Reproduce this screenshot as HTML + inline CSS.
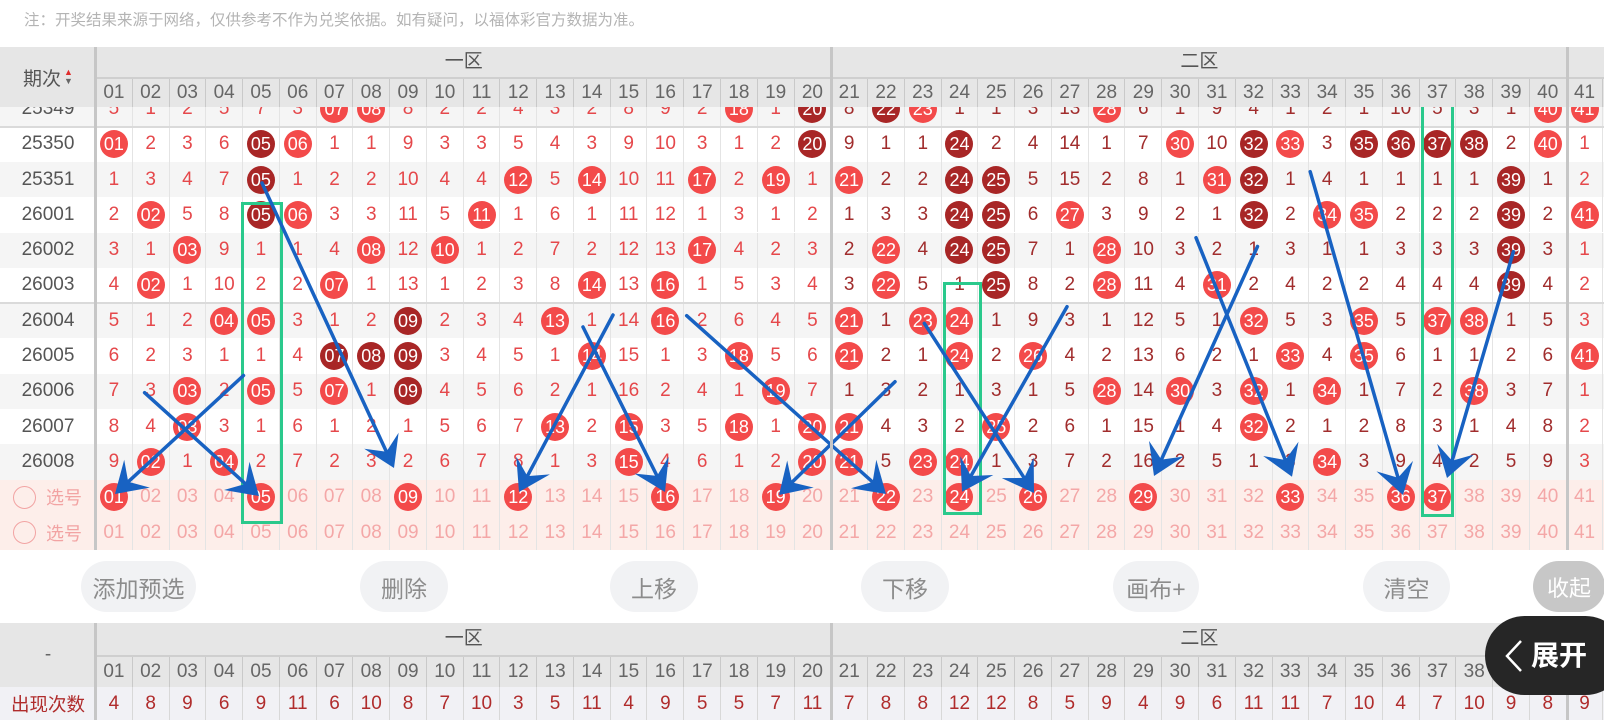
<!DOCTYPE html>
<html><head><meta charset="utf-8">
<style>
*{margin:0;padding:0;box-sizing:border-box}
html,body{width:1604px;height:720px;overflow:hidden;background:#fff}
body{position:relative;font-family:"Liberation Sans","Noto Sans CJK SC",sans-serif}
.note{position:absolute;left:24px;top:10px;font-size:15.5px;color:#b4b4b4;white-space:nowrap;font-family:"Liberation Sans","Noto Sans CJK SC",sans-serif;line-height:22px}
.r{position:absolute;left:0;width:1604px;height:35.3px;display:flex;z-index:1}
.g{background:#f5f5f5}
.r .l{width:96px;flex:none;display:flex;align-items:center;justify-content:center;font-size:19px;color:#555}
.r i{width:36.78px;flex:none;height:100%;display:flex;align-items:center;justify-content:center;font-style:normal;font-size:19px;color:#e5484b;border-right:1px solid #e4e4e4}
.r i:nth-of-type(n+21):nth-of-type(-n+40){color:#a12d2d}
.r b{display:block;width:28px;height:28px;border-radius:50%;background:#f34a4a;color:#fff;font-weight:normal;font-size:18px;line-height:28px;text-align:center}
.r b.d{background:#a82626}
.x{background:#fdeeea}
.x i,.x i:nth-of-type(n+21):nth-of-type(-n+40){color:#f4a7a7}
.x .l{color:#f2a3a3;font-family:"Liberation Sans","Noto Sans CJK SC",sans-serif;font-size:18px;justify-content:flex-start;padding-left:13px}
.x .l em{display:inline-block;width:23px;height:23px;border:1.5px solid #f2a3a3;border-radius:50%;margin-right:10px}
.c{background:#f1f1f5}
.c i,.c i:nth-of-type(n+21):nth-of-type(-n+40){color:#b02c2c;border-right-color:#d8d8d8}
.c .l{color:#b02c2c;font-family:"Liberation Sans","Noto Sans CJK SC",sans-serif;font-size:18.5px}
.hd{position:absolute;left:0;width:1604px;background:#e6e6e6;z-index:5}
.hd .z{position:absolute;top:0;text-align:center;font-size:19px;color:#555;font-family:"Liberation Sans","Noto Sans CJK SC",sans-serif}
.hd .n{position:absolute;left:96px;display:flex;border-top:2px solid #cfcfcf;width:1508px}
.hd .n span{width:36.78px;flex:none;display:flex;align-items:center;justify-content:center;border-right:1px solid #c9c9c9;color:#666;font-size:19px}
.hd .lab{position:absolute;left:0;width:96px;top:0;display:flex;align-items:center;justify-content:center;color:#555;font-size:19px;font-family:"Liberation Sans","Noto Sans CJK SC",sans-serif}
.vl{position:absolute;width:3px;background:#c6c6c6;z-index:6}
.hl{position:absolute;left:0;width:1604px;height:2px;background:#dadada;z-index:2}
.gr{position:absolute;border:3px solid #2ac98c;z-index:3}
.btn{position:absolute;top:561px;height:51px;border-radius:26px;background:#f1f2f4;color:#8c8c8c;font-size:23px;display:flex;align-items:center;justify-content:center;font-family:"Liberation Sans","Noto Sans CJK SC",sans-serif}
</style></head><body>

<div class="note">注：开奖结果来源于网络，仅供参考不作为兑奖依据。如有疑问，以福体彩官方数据为准。</div>

<!-- data rows -->
<div class="r g" style="top:91.3px"><span class="l">25349</span><i>5</i><i>1</i><i>2</i><i>5</i><i>7</i><i>3</i><i><b>07</b></i><i><b>08</b></i><i>8</i><i>2</i><i>2</i><i>4</i><i>3</i><i>2</i><i>8</i><i>9</i><i>2</i><i><b>18</b></i><i>1</i><i><b class="d">20</b></i><i>8</i><i><b class="d">22</b></i><i><b>23</b></i><i>1</i><i>1</i><i>3</i><i>13</i><i><b>28</b></i><i>6</i><i>1</i><i>9</i><i>4</i><i>1</i><i>2</i><i>1</i><i>10</i><i>5</i><i>3</i><i>1</i><i><b>40</b></i><i><b>41</b></i></div>

<div class="r" style="top:126.6px"><span class="l">25350</span><i><b>01</b></i><i>2</i><i>3</i><i>6</i><i><b class="d">05</b></i><i><b>06</b></i><i>1</i><i>1</i><i>9</i><i>3</i><i>3</i><i>5</i><i>4</i><i>3</i><i>9</i><i>10</i><i>3</i><i>1</i><i>2</i><i><b class="d">20</b></i><i>9</i><i>1</i><i>1</i><i><b class="d">24</b></i><i>2</i><i>4</i><i>14</i><i>1</i><i>7</i><i><b>30</b></i><i>10</i><i><b class="d">32</b></i><i><b>33</b></i><i>3</i><i><b class="d">35</b></i><i><b class="d">36</b></i><i><b class="d">37</b></i><i><b class="d">38</b></i><i>2</i><i><b>40</b></i><i>1</i></div>

<div class="r g" style="top:161.9px"><span class="l">25351</span><i>1</i><i>3</i><i>4</i><i>7</i><i><b class="d">05</b></i><i>1</i><i>2</i><i>2</i><i>10</i><i>4</i><i>4</i><i><b>12</b></i><i>5</i><i><b>14</b></i><i>10</i><i>11</i><i><b>17</b></i><i>2</i><i><b>19</b></i><i>1</i><i><b>21</b></i><i>2</i><i>2</i><i><b class="d">24</b></i><i><b class="d">25</b></i><i>5</i><i>15</i><i>2</i><i>8</i><i>1</i><i><b>31</b></i><i><b class="d">32</b></i><i>1</i><i>4</i><i>1</i><i>1</i><i>1</i><i>1</i><i><b class="d">39</b></i><i>1</i><i>2</i></div>

<div class="r" style="top:197.2px"><span class="l">26001</span><i>2</i><i><b>02</b></i><i>5</i><i>8</i><i><b class="d">05</b></i><i><b>06</b></i><i>3</i><i>3</i><i>11</i><i>5</i><i><b>11</b></i><i>1</i><i>6</i><i>1</i><i>11</i><i>12</i><i>1</i><i>3</i><i>1</i><i>2</i><i>1</i><i>3</i><i>3</i><i><b class="d">24</b></i><i><b class="d">25</b></i><i>6</i><i><b>27</b></i><i>3</i><i>9</i><i>2</i><i>1</i><i><b class="d">32</b></i><i>2</i><i><b>34</b></i><i><b>35</b></i><i>2</i><i>2</i><i>2</i><i><b class="d">39</b></i><i>2</i><i><b>41</b></i></div>

<div class="r g" style="top:232.5px"><span class="l">26002</span><i>3</i><i>1</i><i><b>03</b></i><i>9</i><i>1</i><i>1</i><i>4</i><i><b>08</b></i><i>12</i><i><b>10</b></i><i>1</i><i>2</i><i>7</i><i>2</i><i>12</i><i>13</i><i><b>17</b></i><i>4</i><i>2</i><i>3</i><i>2</i><i><b>22</b></i><i>4</i><i><b class="d">24</b></i><i><b class="d">25</b></i><i>7</i><i>1</i><i><b>28</b></i><i>10</i><i>3</i><i>2</i><i>1</i><i>3</i><i>1</i><i>1</i><i>3</i><i>3</i><i>3</i><i><b class="d">39</b></i><i>3</i><i>1</i></div>

<div class="r" style="top:267.8px"><span class="l">26003</span><i>4</i><i><b>02</b></i><i>1</i><i>10</i><i>2</i><i>2</i><i><b>07</b></i><i>1</i><i>13</i><i>1</i><i>2</i><i>3</i><i>8</i><i><b>14</b></i><i>13</i><i><b>16</b></i><i>1</i><i>5</i><i>3</i><i>4</i><i>3</i><i><b>22</b></i><i>5</i><i>1</i><i><b class="d">25</b></i><i>8</i><i>2</i><i><b>28</b></i><i>11</i><i>4</i><i><b>31</b></i><i>2</i><i>4</i><i>2</i><i>2</i><i>4</i><i>4</i><i>4</i><i><b class="d">39</b></i><i>4</i><i>2</i></div>

<div class="r g" style="top:303.1px"><span class="l">26004</span><i>5</i><i>1</i><i>2</i><i><b>04</b></i><i><b>05</b></i><i>3</i><i>1</i><i>2</i><i><b class="d">09</b></i><i>2</i><i>3</i><i>4</i><i><b>13</b></i><i>1</i><i>14</i><i><b>16</b></i><i>2</i><i>6</i><i>4</i><i>5</i><i><b>21</b></i><i>1</i><i><b>23</b></i><i><b>24</b></i><i>1</i><i>9</i><i>3</i><i>1</i><i>12</i><i>5</i><i>1</i><i><b>32</b></i><i>5</i><i>3</i><i><b>35</b></i><i>5</i><i><b>37</b></i><i><b>38</b></i><i>1</i><i>5</i><i>3</i></div>

<div class="r" style="top:338.4px"><span class="l">26005</span><i>6</i><i>2</i><i>3</i><i>1</i><i>1</i><i>4</i><i><b class="d">07</b></i><i><b class="d">08</b></i><i><b class="d">09</b></i><i>3</i><i>4</i><i>5</i><i>1</i><i><b>14</b></i><i>15</i><i>1</i><i>3</i><i><b>18</b></i><i>5</i><i>6</i><i><b>21</b></i><i>2</i><i>1</i><i><b>24</b></i><i>2</i><i><b>26</b></i><i>4</i><i>2</i><i>13</i><i>6</i><i>2</i><i>1</i><i><b>33</b></i><i>4</i><i><b>35</b></i><i>6</i><i>1</i><i>1</i><i>2</i><i>6</i><i><b>41</b></i></div>

<div class="r g" style="top:373.7px"><span class="l">26006</span><i>7</i><i>3</i><i><b>03</b></i><i>2</i><i><b>05</b></i><i>5</i><i><b>07</b></i><i>1</i><i><b class="d">09</b></i><i>4</i><i>5</i><i>6</i><i>2</i><i>1</i><i>16</i><i>2</i><i>4</i><i>1</i><i><b>19</b></i><i>7</i><i>1</i><i>3</i><i>2</i><i>1</i><i>3</i><i>1</i><i>5</i><i><b>28</b></i><i>14</i><i><b>30</b></i><i>3</i><i><b>32</b></i><i>1</i><i><b>34</b></i><i>1</i><i>7</i><i>2</i><i><b>38</b></i><i>3</i><i>7</i><i>1</i></div>

<div class="r" style="top:409px"><span class="l">26007</span><i>8</i><i>4</i><i><b>03</b></i><i>3</i><i>1</i><i>6</i><i>1</i><i>2</i><i>1</i><i>5</i><i>6</i><i>7</i><i><b>13</b></i><i>2</i><i><b>15</b></i><i>3</i><i>5</i><i><b>18</b></i><i>1</i><i><b>20</b></i><i><b>21</b></i><i>4</i><i>3</i><i>2</i><i><b>25</b></i><i>2</i><i>6</i><i>1</i><i>15</i><i>1</i><i>4</i><i><b>32</b></i><i>2</i><i>1</i><i>2</i><i>8</i><i>3</i><i>1</i><i>4</i><i>8</i><i>2</i></div>

<div class="r g" style="top:444.3px"><span class="l">26008</span><i>9</i><i><b>02</b></i><i>1</i><i><b>04</b></i><i>2</i><i>7</i><i>2</i><i>3</i><i>2</i><i>6</i><i>7</i><i>8</i><i>1</i><i>3</i><i><b>15</b></i><i>4</i><i>6</i><i>1</i><i>2</i><i><b>20</b></i><i><b>21</b></i><i>5</i><i><b>23</b></i><i><b>24</b></i><i>1</i><i>3</i><i>7</i><i>2</i><i>16</i><i>2</i><i>5</i><i>1</i><i>3</i><i><b>34</b></i><i>3</i><i>9</i><i>4</i><i>2</i><i>5</i><i>9</i><i>3</i></div>

<div class="r x" style="top:479.6px"><span class="l"><em></em>选号</span><i><b>01</b></i><i>02</i><i>03</i><i>04</i><i><b>05</b></i><i>06</i><i>07</i><i>08</i><i><b>09</b></i><i>10</i><i>11</i><i><b>12</b></i><i>13</i><i>14</i><i>15</i><i><b>16</b></i><i>17</i><i>18</i><i><b>19</b></i><i>20</i><i>21</i><i><b>22</b></i><i>23</i><i><b>24</b></i><i>25</i><i><b>26</b></i><i>27</i><i>28</i><i><b>29</b></i><i>30</i><i>31</i><i>32</i><i><b>33</b></i><i>34</i><i>35</i><i><b>36</b></i><i><b>37</b></i><i>38</i><i>39</i><i>40</i><i>41</i></div>

<div class="r x" style="top:514.9px"><span class="l"><em></em>选号</span><i>01</i><i>02</i><i>03</i><i>04</i><i>05</i><i>06</i><i>07</i><i>08</i><i>09</i><i>10</i><i>11</i><i>12</i><i>13</i><i>14</i><i>15</i><i>16</i><i>17</i><i>18</i><i>19</i><i>20</i><i>21</i><i>22</i><i>23</i><i>24</i><i>25</i><i>26</i><i>27</i><i>28</i><i>29</i><i>30</i><i>31</i><i>32</i><i>33</i><i>34</i><i>35</i><i>36</i><i>37</i><i>38</i><i>39</i><i>40</i><i>41</i></div>

<!-- separators -->
<div class="hl" style="top:125.6px"></div>
<div class="hl" style="top:302.1px"></div>

<!-- green boxes -->
<div class="gr" style="left:241px;top:202px;width:42px;height:322px"></div>
<div class="gr" style="left:943px;top:282px;width:39px;height:233px"></div>
<div class="gr" style="left:1421px;top:100px;width:33px;height:417px"></div>

<!-- arrows -->
<svg style="position:absolute;left:0;top:0;z-index:4" width="1604" height="720">
<g stroke="#1862c2" stroke-width="3.5" fill="none" stroke-linecap="round">
<line x1="262" y1="183" x2="386.4" y2="451.7"/>
<line x1="243.5" y1="375.5" x2="128.2" y2="481.8"/>
<line x1="144.6" y1="392.7" x2="245.6" y2="483.9"/>
<line x1="613" y1="315" x2="527.4" y2="476.1"/>
<line x1="583" y1="327" x2="657" y2="475.9"/>
<line x1="686.7" y1="315.7" x2="872.6" y2="482"/>
<line x1="895" y1="381.7" x2="791.9" y2="482.4"/>
<line x1="924.3" y1="323.3" x2="1024.2" y2="477.9"/>
<line x1="1067" y1="306.7" x2="970.9" y2="476"/>
<line x1="1196" y1="237.7" x2="1285.3" y2="460"/>
<line x1="1257.5" y1="246.5" x2="1161.4" y2="459.6"/>
<line x1="1310.2" y1="171.7" x2="1398" y2="477.7"/>
<line x1="1513.4" y1="251.7" x2="1452.1" y2="460.7"/>
</g>
<g fill="#1862c2">
<polygon points="394,468 364.2,448.8 386.4,451.7 398.6,432.8"/>
<polygon points="115,494 124.2,459.7 128.2,481.8 149.9,487.6"/>
<polygon points="259,496 224,490 245.6,483.9 249.5,461.8"/>
<polygon points="519,492 516.3,456.6 527.4,476.1 549.9,474.4"/>
<polygon points="665,492 634.6,473.6 657,475.9 668.7,456.7"/>
<polygon points="886,494 851,488.2 872.6,482 876.3,459.8"/>
<polygon points="779,495 787.2,460.5 791.9,482.4 813.7,487.6"/>
<polygon points="1034,493 1001.8,478.1 1024.2,477.9 1033.7,457.5"/>
<polygon points="962,491.7 960.3,456.2 970.9,476 993.3,475"/>
<polygon points="1292,476.7 1263.2,456 1285.3,460 1298.5,441.8"/>
<polygon points="1154,476 1149,440.9 1161.4,459.6 1183.7,456.5"/>
<polygon points="1403,495 1376.5,471.4 1398,477.7 1413,460.9"/>
<polygon points="1447,478 1437.2,443.9 1452.1,460.7 1473.7,454.6"/>
</g>
</svg>

<!-- top header -->
<div class="hd" style="top:47px;height:60px">
<div class="lab" style="height:60px">期次<span style="display:inline-flex;flex-direction:column;margin-left:3px;font-size:9px;line-height:9px"><span style="color:#e02c2c">▲</span><span style="color:#666">▼</span></span></div>
<div class="z" style="left:96px;width:735.6px;height:30px;line-height:30px">一区</div>
<div class="z" style="left:831.6px;width:735.6px;height:30px;line-height:30px">二区</div>
<div class="n" style="top:30px;height:30px"><span>01</span><span>02</span><span>03</span><span>04</span><span>05</span><span>06</span><span>07</span><span>08</span><span>09</span><span>10</span><span>11</span><span>12</span><span>13</span><span>14</span><span>15</span><span>16</span><span>17</span><span>18</span><span>19</span><span>20</span><span>21</span><span>22</span><span>23</span><span>24</span><span>25</span><span>26</span><span>27</span><span>28</span><span>29</span><span>30</span><span>31</span><span>32</span><span>33</span><span>34</span><span>35</span><span>36</span><span>37</span><span>38</span><span>39</span><span>40</span><span>41</span></div>
</div>

<!-- buttons -->
<div class="btn" style="left:81px;width:115px">添加预选</div>
<div class="btn" style="left:360px;width:88px">删除</div>
<div class="btn" style="left:610px;width:88px">上移</div>
<div class="btn" style="left:861px;width:88px">下移</div>
<div class="btn" style="left:1113px;width:86px">画布+</div>
<div class="btn" style="left:1363px;width:87px">清空</div>
<div class="btn" style="left:1533px;width:72px;background:#c7c7c7;color:#fff;font-size:22px">收起</div>

<!-- bottom header -->
<div class="hd" style="top:623px;height:64px">
<div class="lab" style="height:64px;color:#666">-</div>
<div class="z" style="left:96px;width:735.6px;height:32px;line-height:32px">一区</div>
<div class="z" style="left:831.6px;width:735.6px;height:32px;line-height:32px">二区</div>
<div class="n" style="top:32px;height:32px"><span>01</span><span>02</span><span>03</span><span>04</span><span>05</span><span>06</span><span>07</span><span>08</span><span>09</span><span>10</span><span>11</span><span>12</span><span>13</span><span>14</span><span>15</span><span>16</span><span>17</span><span>18</span><span>19</span><span>20</span><span>21</span><span>22</span><span>23</span><span>24</span><span>25</span><span>26</span><span>27</span><span>28</span><span>29</span><span>30</span><span>31</span><span>32</span><span>33</span><span>34</span><span>35</span><span>36</span><span>37</span><span>38</span><span>39</span><span>40</span><span>41</span></div>
</div>

<div class="r c" style="top:687px;height:33px"><span class="l">出现次数</span><i>4</i><i>8</i><i>9</i><i>6</i><i>9</i><i>11</i><i>6</i><i>10</i><i>8</i><i>7</i><i>10</i><i>3</i><i>5</i><i>11</i><i>4</i><i>9</i><i>5</i><i>5</i><i>7</i><i>11</i><i>7</i><i>8</i><i>8</i><i>12</i><i>12</i><i>8</i><i>5</i><i>9</i><i>4</i><i>9</i><i>6</i><i>11</i><i>11</i><i>7</i><i>10</i><i>4</i><i>7</i><i>10</i><i>9</i><i>8</i><i>9</i></div>

<!-- thick vertical dividers -->
<div class="vl" style="left:94px;top:47px;height:503px"></div>
<div class="vl" style="left:830px;top:47px;height:503px"></div>
<div class="vl" style="left:1566px;top:47px;height:503px"></div>
<div class="vl" style="left:94px;top:623px;height:97px"></div>
<div class="vl" style="left:830px;top:623px;height:97px"></div>
<div class="vl" style="left:1566px;top:623px;height:97px"></div>

<!-- expand pill -->
<div style="position:absolute;left:1485px;top:616px;width:140px;height:79px;border-radius:40px;background:#262626;z-index:8"></div>
<svg style="position:absolute;left:0;top:0;z-index:9" width="1604" height="720"><polyline points="1521,641 1507,656 1521,671" fill="none" stroke="#fff" stroke-width="2.5"/></svg>
<div style="position:absolute;left:1531px;top:636px;height:40px;line-height:40px;font-size:28px;font-weight:bold;color:#fff;z-index:9;font-family:'Liberation Sans','Noto Sans CJK SC',sans-serif;white-space:nowrap">展开</div>

</body></html>
